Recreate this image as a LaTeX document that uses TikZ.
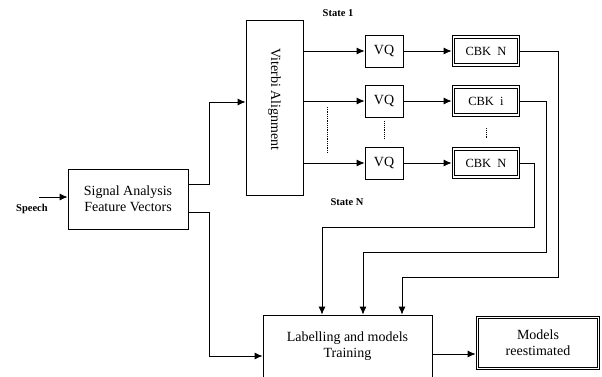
\documentclass[tikz,border=0pt]{standalone}
\usepackage{fontspec}
\setmainfont{Liberation Serif}
\usetikzlibrary{arrows.meta,calc,positioning}
\tikzstyle{block} = [rectangle, draw, line width=0.8pt, text centered,
    inner sep=0pt, font=\fontsize{14}{16}\selectfont]
\tikzstyle{dblock} = [block, double, double distance=1.6pt]
\tikzstyle{line} = [draw, line width=0.8pt, -{Latex[length=8pt,width=7pt]}]
\tikzstyle{tag} = [inner sep=0pt, font=\bfseries\fontsize{10.5}{12}\selectfont]

\begin{document}
\begin{tikzpicture}[x=1pt,y=-1pt,node distance=1cm]
    \useasboundingbox (0,0) rectangle (602,376);

    \node [block, minimum width=120pt, minimum height=60pt, align=center] (sig) at (128,199) {Signal Analysis\\Feature Vectors};
    \node [block, minimum width=57pt, minimum height=175pt] (vit) at (274.5,107.5) {};
    \node [rotate=-90, inner sep=0pt, font=\fontsize{14}{16}\selectfont] (vitlabel) at ($(vit.center)+(0,-8)$) {Viterbi Alignment};
    \node [block, minimum width=38pt, minimum height=32pt] (vq1) at (384,51) {VQ};
    \node [block, minimum width=38pt, minimum height=32pt, below of=vq1, node distance=50pt] (vq2) {VQ};
    \node [block, minimum width=38pt, minimum height=32pt, below of=vq2, node distance=62pt] (vq3) {VQ};
    \node [dblock, minimum width=65pt, minimum height=28pt, right of=vq1, node distance=102pt, font=\fontsize{12.5}{14}\selectfont] (cbk1) {CBK~~N};
    \node [dblock, minimum width=65pt, minimum height=28pt, right of=vq2, node distance=102pt, font=\fontsize{12.5}{14}\selectfont] (cbk2) {CBK~~i};
    \node [dblock, minimum width=65pt, minimum height=28pt, right of=vq3, node distance=102pt, font=\fontsize{12.5}{14}\selectfont] (cbk3) {CBK~~N};
    \node [block, minimum width=169pt, minimum height=63pt, align=center] (lab) at (347.5,346.5) {Labelling and models\\Training};
    \node [dblock, minimum width=121pt, minimum height=51pt, align=center] (mod) at (538,343) {Models\\reestimated};

    % labels
    \node [tag] (speech) at (32,209) {Speech};
    \node [tag] (st1) at (338,13) {State 1};
    \node [tag] (stN) at (347,202) {State N};
    \coordinate (spin) at (39,197);

    % Draw edges
    \path [line] (spin) -- (spin -| sig.west);
    \path [line] ([yshift=15pt]sig.east) -- ++(21,0) |- ([yshift=5.5pt]vit.west);
    \path [line] ([yshift=-13pt]sig.east) -- ++(21,0) |- ([yshift=-9.5pt]lab.west);
    \foreach \r in {1,2,3} {
        \path [line] (vit.east |- vq\r) -- (vq\r);
        \path [line, shorten >=1.5pt] (vq\r) -- (cbk\r);
    }
    \path [line] (cbk1.east) -| (558,277) -| ([xshift=54.5pt]lab.north);
    \path [line] (cbk2.east) -| (546,252) -| ([xshift=15.5pt]lab.north);
    \path [line] (cbk3.east) -| (534,227) -| ([xshift=-25.5pt]lab.north);
    \path [line, shorten >=1.5pt] ($(lab.east)+(0,7.5)$) -- ($(mod.west)+(0,11)$);

    % dotted gaps
    \draw [densely dotted, line width=0.8pt] (327,107) -- (327,153);
    \draw [densely dotted, line width=0.8pt, shorten <=4pt, shorten >=8pt] (vq2.south) -- (vq3.north);
    \draw [densely dotted, line width=0.8pt, shorten <=13pt, shorten >=11pt] (cbk2.south) -- (cbk3.north);

\end{tikzpicture}
\end{document}
